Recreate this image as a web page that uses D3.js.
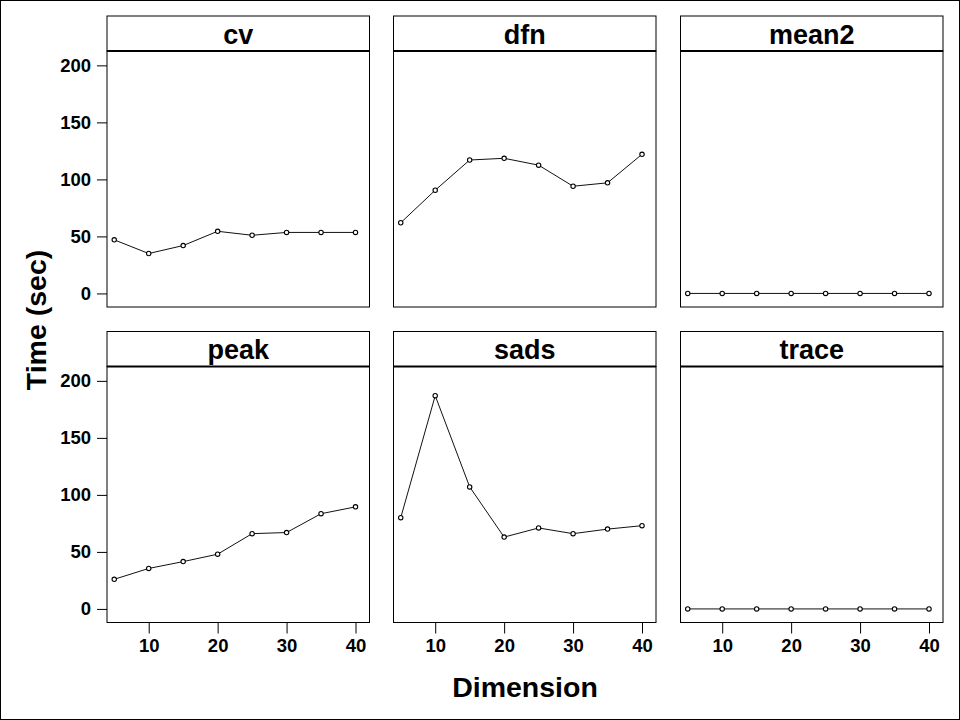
<!DOCTYPE html>
<html>
<head>
<meta charset="utf-8">
<script src="https://cdnjs.cloudflare.com/ajax/libs/d3/7.8.5/d3.min.js"></script>
<style>
  html, body { margin: 0; padding: 0; background: #fff; }
  svg { display: block; }
  text { font-family: "Liberation Sans", Arial, sans-serif; font-weight: bold; fill: #000; }
</style>
</head>
<body>
<script>
// ---- data ----
const dimensions = [5, 10, 15, 20, 25, 30, 35, 40];
const panelNames = ["cv", "dfn", "mean2", "peak", "sads", "trace"];
const cvValues    = [47, 35, 42, 54.5, 51, 53.5, 53.5, 53.5];
const dfnValues   = [62, 90.5, 117, 118.5, 112.5, 94, 97, 122];
const mean2Values = [0, 0, 0, 0, 0, 0, 0, 0];
const peakValues  = [26, 35.5, 41.5, 48, 66, 67, 83.5, 89.5];
const sadsValues  = [80, 187, 107, 63, 71, 66, 70, 73];
const traceValues = [0, 0, 0, 0, 0, 0, 0, 0];
const xTickValues = [10, 20, 30, 40];
const yTickValues = [0, 50, 100, 150, 200];
const xTitle = "Dimension";
const yTitle = "Time (sec)";

const seriesByPanel = {
  cv: cvValues, dfn: dfnValues, mean2: mean2Values,
  peak: peakValues, sads: sadsValues, trace: traceValues
};

// ---- layout ----
const W = 960, H = 720;
const colX = [107, 393.5, 680.5];
const rowY = [16, 331.5];
const panelW = 262.5, stripH = 35, plotH = 256;

const svg = d3.select("body").append("svg").attr("width", W).attr("height", H);
svg.append("rect").attr("x", 0.5).attr("y", 0.5).attr("width", W - 1).attr("height", H - 1)
  .attr("fill", "#fff").attr("stroke", "#000").attr("stroke-width", 1);

const x = d3.scaleLinear().domain([3.95, 42.03]).range([0, panelW]);
const y = d3.scaleLinear().domain([-11.9, 212.6]).range([plotH, 0]);

panelNames.forEach((name, i) => {
  const col = i % 3, row = Math.floor(i / 3);
  const g = svg.append("g").attr("transform", `translate(${colX[col]},${rowY[row]})`);
  // strip
  g.append("rect").attr("x", 0).attr("y", 0).attr("width", panelW).attr("height", stripH)
    .attr("fill", "#fff").attr("stroke", "#000").attr("stroke-width", 1);
  g.append("text").attr("x", panelW / 2).attr("y", 27.5).attr("text-anchor", "middle")
    .style("font-size", "27px").text(name);
  const p = g.append("g").attr("transform", `translate(0,${stripH})`);
  p.append("rect").attr("x", 0).attr("y", 0).attr("width", panelW).attr("height", plotH)
    .attr("fill", "none").attr("stroke", "#000").attr("stroke-width", 1);
  p.append("line").attr("x1", 0).attr("x2", panelW).attr("y1", 0).attr("y2", 0)
    .attr("stroke", "#000").attr("stroke-width", 2.2);

  const vals = seriesByPanel[name];
  const pts = dimensions.map((d, k) => [d, vals[k]]);
  p.append("path").datum(pts)
    .attr("fill", "none").attr("stroke", "#111").attr("stroke-width", 1)
    .attr("d", d3.line().x(d => x(d[0])).y(d => y(d[1])));
  p.selectAll("circle.pt").data(pts).enter().append("circle")
    .attr("class", "pt")
    .attr("cx", d => x(d[0])).attr("cy", d => y(d[1])).attr("r", 2.2)
    .attr("fill", "#fff").attr("stroke", "#000").attr("stroke-width", 1.1);

  if (col === 0) {
    const ax = p.append("g").call(d3.axisLeft(y).tickValues(yTickValues).tickSize(10).tickPadding(6));
    ax.select(".domain").remove();
    ax.selectAll("line").attr("stroke", "#000");
    ax.selectAll("text").style("font-size", "18.5px").style("font-family", "Liberation Sans, Arial, sans-serif").style("font-weight", "bold").attr("fill", "#000");
  }
  if (row === 1) {
    const ax = p.append("g").attr("transform", `translate(0,${plotH})`)
      .call(d3.axisBottom(x).tickValues(xTickValues).tickSize(11).tickPadding(5));
    ax.select(".domain").remove();
    ax.selectAll("line").attr("stroke", "#000");
    ax.selectAll("text").style("font-size", "18.5px").style("font-family", "Liberation Sans, Arial, sans-serif").style("font-weight", "bold").attr("fill", "#000");
  }
});

svg.append("text").attr("x", 525).attr("y", 697).attr("text-anchor", "middle")
  .style("font-size", "28.5px").text(xTitle);
svg.append("text").attr("transform", "translate(46,320) rotate(-90)").attr("text-anchor", "middle")
  .style("font-size", "28.5px").text(yTitle);
</script>
</body>
</html>
